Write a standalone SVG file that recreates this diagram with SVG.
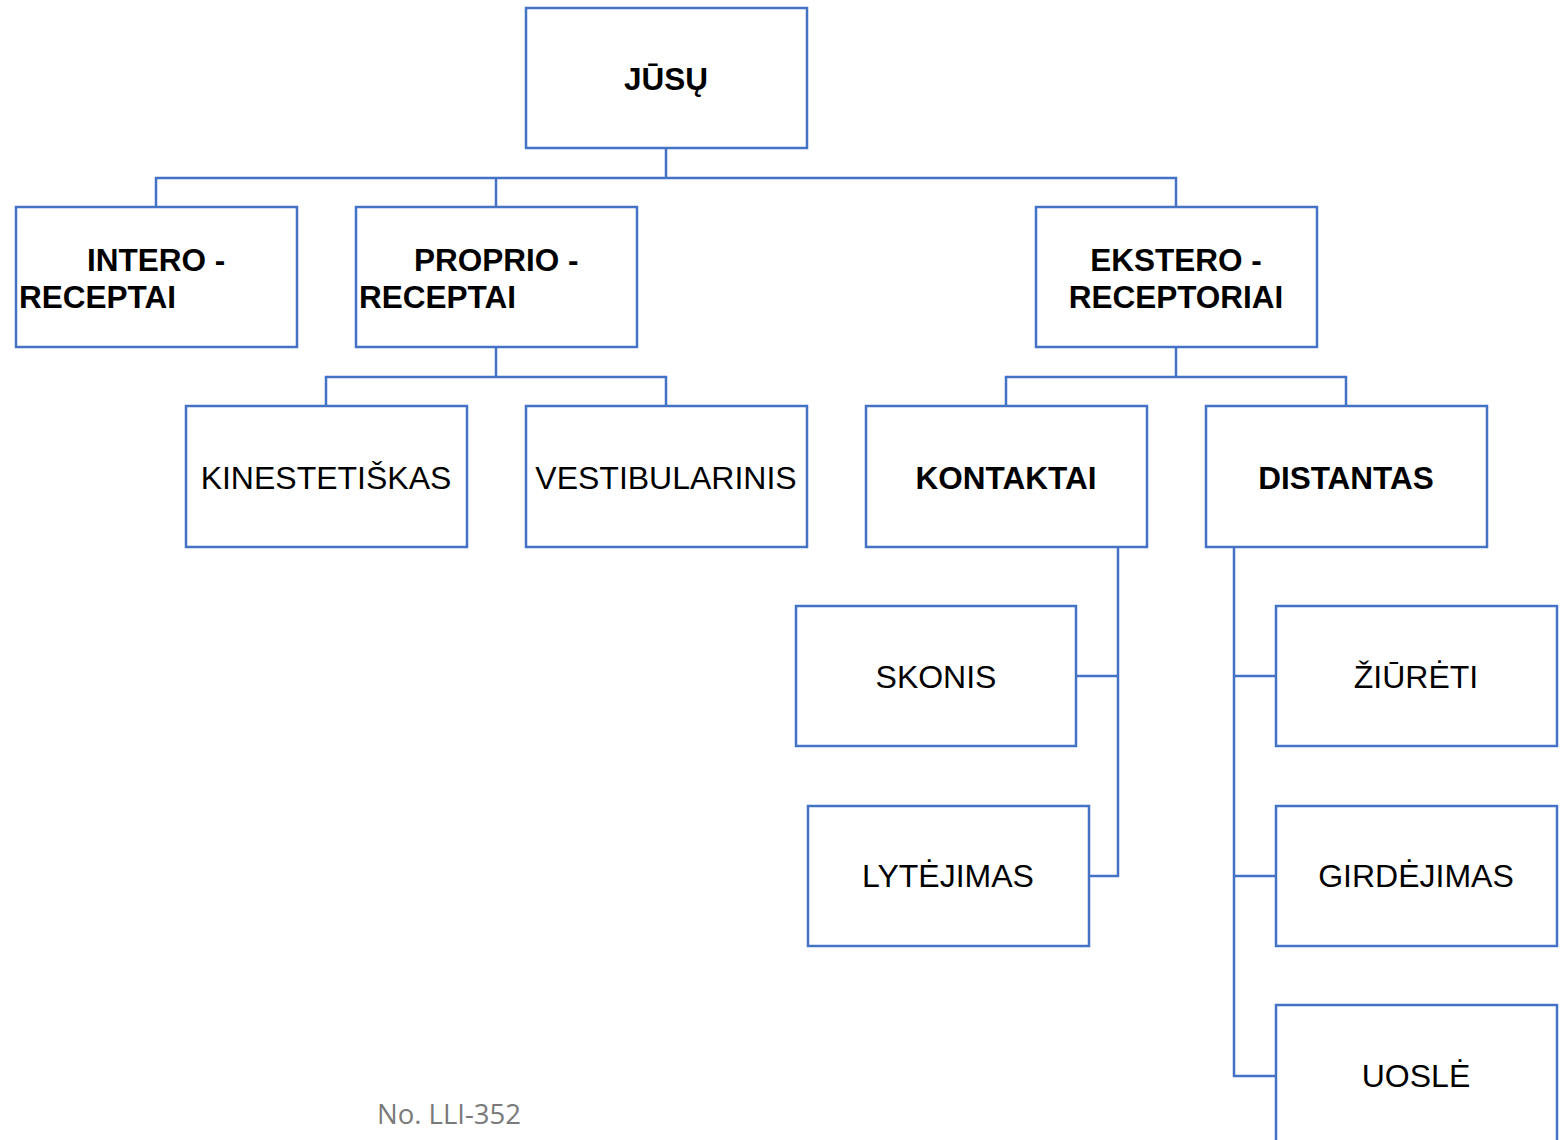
<svg xmlns="http://www.w3.org/2000/svg" width="1565" height="1140" viewBox="0 0 1565 1140">
<style>
.box{fill:#fff;stroke:#4472C4;stroke-width:2.5}
.ln{fill:none;stroke:#4472C4;stroke-width:2.5}
.b{font-family:"Liberation Sans",Arial,sans-serif;font-weight:bold;font-size:31.5px;fill:#000}
.r{font-family:"Liberation Sans",Arial,sans-serif;font-size:32px;fill:#000}
.c{text-anchor:middle}
</style>
<rect width="1565" height="1140" fill="#fff"/>
<g id="connectors">
<path class="ln" d="M666 148V178M156 207V178H1176V207M496 178V207"/>
<path class="ln" d="M496 347V377M326 406V377H666V406"/>
<path class="ln" d="M1176 347V377M1006 406V377H1346V406"/>
<path class="ln" d="M1118 547V876H1089M1076 676H1118"/>
<path class="ln" d="M1234 547V1076H1276M1234 676H1276M1234 876H1276"/>
</g>
<g id="jusu"><rect class="box" x="526" y="8" width="281" height="140"/><text class="b c" x="666" y="90">JŪSŲ</text></g>
<g id="intero"><rect class="box" x="16" y="207" width="281" height="140"/><text class="b" x="87" y="271">INTERO -</text><text class="b" x="19" y="308">RECEPTAI</text></g>
<g id="proprio"><rect class="box" x="356" y="207" width="281" height="140"/><text class="b" x="414" y="271">PROPRIO -</text><text class="b" x="359" y="308">RECEPTAI</text></g>
<g id="ekstero"><rect class="box" x="1036" y="207" width="281" height="140"/><text class="b c" x="1176" y="271">EKSTERO -</text><text class="b c" x="1176" y="308">RECEPTORIAI</text></g>
<g id="kinestetiskas"><rect class="box" x="186" y="406" width="281" height="141"/><text class="r c" x="326" y="489">KINESTETIŠKAS</text></g>
<g id="vestibularinis"><rect class="box" x="526" y="406" width="281" height="141"/><text class="r c" x="666" y="489">VESTIBULARINIS</text></g>
<g id="kontaktai"><rect class="box" x="866" y="406" width="281" height="141"/><text class="b c" x="1006" y="489">KONTAKTAI</text></g>
<g id="distantas"><rect class="box" x="1206" y="406" width="281" height="141"/><text class="b c" x="1346" y="489">DISTANTAS</text></g>
<g id="skonis"><rect class="box" x="796" y="606" width="280" height="140"/><text class="r c" x="936" y="688">SKONIS</text></g>
<g id="lytejimas"><rect class="box" x="808" y="806" width="281" height="140"/><text class="r c" x="948" y="887">LYTĖJIMAS</text></g>
<g id="ziureti"><rect class="box" x="1276" y="606" width="281" height="140"/><text class="r c" x="1416" y="688">ŽIŪRĖTI</text></g>
<g id="girdejimas"><rect class="box" x="1276" y="806" width="281" height="140"/><text class="r c" x="1416" y="887">GIRDĖJIMAS</text></g>
<g id="uosle"><rect class="box" x="1276" y="1005" width="281" height="150"/><text class="r c" x="1416" y="1087">UOSLĖ</text></g>
<text x="377" y="1124" font-family="'Open Sans',sans-serif" font-size="27" fill="#7a7a7a" textLength="144" lengthAdjust="spacingAndGlyphs">No. LLI-352</text>
</svg>
